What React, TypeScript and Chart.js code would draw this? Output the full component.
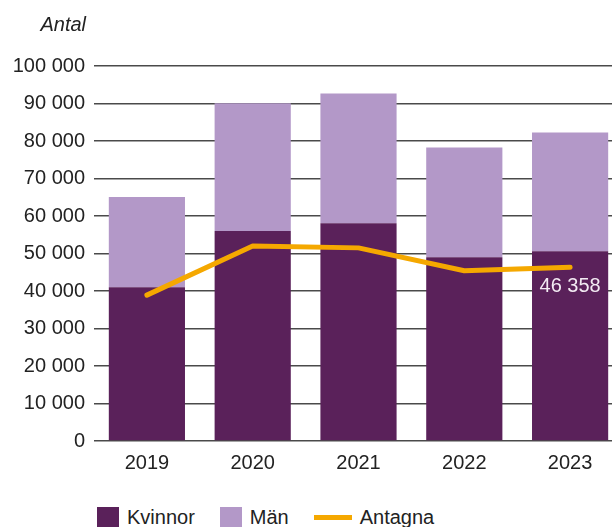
import React, { useEffect, useRef } from "react";
import { Chart, registerables } from "chart.js";

Chart.register(...registerables);

const years = ["2019", "2020", "2021", "2022", "2023"];
const kvinnor = [41000, 56000, 58100, 49000, 50600];
const man = [24100, 34100, 34600, 29300, 31700];
const antagna = [38900, 52000, 51500, 45400, 46358];
const yTicks = [0, 10000, 20000, 30000, 40000, 50000, 60000, 70000, 80000, 90000, 100000];

const C_KV = "#5a215a";
const C_MAN = "#b398c8";
const C_ANT = "#f5a800";
const FONT = "'Liberation Sans', Arial, sans-serif";

const fmt = (v: number) => String(Math.round(v)).replace(/\B(?=(\d{3})+(?!\d))/g, " ");

const extras = {
  id: "extras",
  afterDatasetsDraw(chart: any) {
    const ctx = chart.ctx;
    ctx.save();
    // axis title
    ctx.font = `italic 20px ${FONT}`;
    ctx.fillStyle = "#222";
    ctx.textAlign = "right";
    ctx.textBaseline = "alphabetic";
    ctx.fillText("Antal", 86, 31);
    // last value label
    const meta = chart.getDatasetMeta(2);
    const last = meta.data[meta.data.length - 1];
    const val = antagna[antagna.length - 1];
    ctx.font = `20px ${FONT}`;
    ctx.fillStyle = "#f3ebf3";
    ctx.textAlign = "center";
    ctx.textBaseline = "middle";
    ctx.fillText(fmt(val), last.x, last.y + 19);
    ctx.restore();
  },
};

export default function App() {
  const ref = useRef<HTMLCanvasElement>(null);
  useEffect(() => {
    const chart = new Chart(ref.current!, {
      type: "bar",
      data: {
        labels: years,
        datasets: [
          { label: "Kvinnor", data: kvinnor, backgroundColor: C_KV, stack: "a", order: 1, categoryPercentage: 1, barPercentage: 0.72 } as any,
          { label: "Män", data: man, backgroundColor: C_MAN, stack: "a", order: 1, categoryPercentage: 1, barPercentage: 0.72 } as any,
          {
            type: "line",
            label: "Antagna",
            data: antagna,
            borderColor: C_ANT,
            backgroundColor: C_ANT,
            borderWidth: 5,
            pointRadius: 0,
            borderCapStyle: "round",
            borderJoinStyle: "round",
            tension: 0,
            stack: "b",
            order: 0,
          } as any,
        ],
      },
      options: {
        responsive: false,
        animation: false,
        layout: { padding: { top: 66, left: 0, right: 0, bottom: 0 } },
        plugins: { legend: { display: false }, tooltip: { enabled: false }, title: { display: false } },
        scales: {
          x: {
            stacked: true,
            grid: { display: false, drawTicks: false },
            border: { display: false },
            ticks: { color: "#222", font: { family: FONT, size: 20 }, padding: 10, maxRotation: 0 },
            afterFit: (s: any) => { s.height = 34; },
          },
          y: {
            stacked: true,
            min: 0,
            max: 100000,
            afterBuildTicks: (s: any) => { s.ticks = yTicks.map((v) => ({ value: v })); },
            grid: { color: "#4a4a4a", lineWidth: 1.4, drawTicks: false },
            border: { display: false },
            ticks: { color: "#222", font: { family: FONT, size: 20 }, padding: 9, callback: (v: any) => fmt(Number(v)) },
            afterFit: (s: any) => { s.width = 94; },
          },
        },
      },
      plugins: [extras],
    });
    return () => chart.destroy();
  }, []);

  const item = { display: "flex", alignItems: "center", marginRight: 25 } as React.CSSProperties;
  const txt = { fontFamily: FONT, fontSize: 20, color: "#222", lineHeight: "23px" } as React.CSSProperties;
  return (
    <div style={{ position: "fixed", left: 0, top: 0, width: 612, height: 527, overflow: "hidden", background: "#fff" }}>
      <canvas ref={ref} width={623} height={475} style={{ position: "absolute", left: 0, top: 0, width: 623, height: 475 }} />
      <div style={{ position: "absolute", left: 97, top: 506, height: 23, display: "flex", alignItems: "center" }}>
        <div style={item}>
          <span style={{ width: 22, height: 22, background: C_KV, marginRight: 8, display: "inline-block" }} />
          <span style={txt}>Kvinnor</span>
        </div>
        <div style={item}>
          <span style={{ width: 22, height: 22, background: C_MAN, marginRight: 8, display: "inline-block" }} />
          <span style={txt}>Män</span>
        </div>
        <div style={item}>
          <span style={{ width: 38, height: 5, background: C_ANT, marginRight: 8, display: "inline-block" }} />
          <span style={txt}>Antagna</span>
        </div>
      </div>
    </div>
  );
}
